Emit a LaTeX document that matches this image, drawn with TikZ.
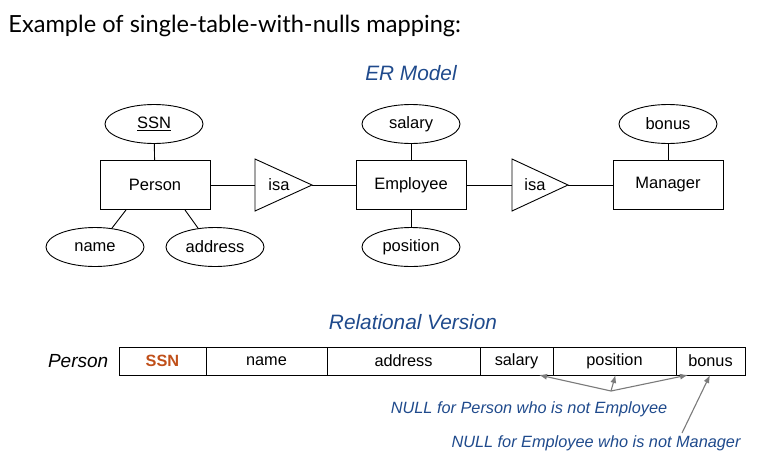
\documentclass[tikz,border=0pt]{standalone}
\usepackage{fontspec}
\setmainfont{Liberation Sans}
\newfontfamily\latofont{Lato}
\usetikzlibrary{shapes.geometric,arrows.meta}

\definecolor{hdblue}{HTML}{1F4A8C}
\definecolor{keyorange}{HTML}{C0501A}
\definecolor{arrgray}{HTML}{7A7A7A}

\tikzset{
  entity/.style={draw, rectangle, minimum width=110, minimum height=49, inner sep=0, font=\fontsize{16.5}{19}\selectfont},
  attr/.style={draw, ellipse, minimum width=98, minimum height=39, inner sep=0, font=\fontsize{16.5}{19}\selectfont},
  cell/.style={draw, rectangle, minimum height=28, inner sep=0, outer sep=0, anchor=west, font=\fontsize{16.3}{19}\selectfont},
  heading/.style={text=hdblue, font=\fontsize{20.8}{24}\selectfont\itshape},
  note/.style={text=hdblue, font=\fontsize{16.3}{19}\selectfont\itshape},
  nullarrow/.style={draw=arrgray, line width=1.1, -{Latex[length=8, width=6]}}
}

\begin{document}
\begin{tikzpicture}[x=1pt, y=-1pt, line width=0.9]
    \useasboundingbox (0,0) rectangle (767,469);
    \node[anchor=base west, inner sep=0, font=\latofont\fontsize{23.6}{27}\selectfont] (title) at (8,32) {Example of single-table-with-nulls mapping:};

    % ER model
    \node[heading] (ermodel) at (411,73) {ER Model};
    \node[entity] (person) at (155,185) {Person};
    \node[entity] (employee) at (411,185) {Employee};
    \node[entity] (manager) at (668,185) {Manager};
    \node[attr] (ssn) at (154,124) {\underline{SSN}};
    \node[attr] (name) at (95,247) {name};
    \node[attr] (address) at (215,247) {address};
    \node[attr] (salary) at (411,124) {salary};
    \node[attr] (position) at (411,247) {position};
    \node[attr] (bonus) at (668,124) {bonus};

    % isa triangles
    \draw (255,159) -- (312,185) -- (255,211) -- cycle;
    \draw (512,159) -- (568,185) -- (512,211) -- cycle;
    \path (279,185) node[font=\fontsize{16.5}{19}\selectfont] (isa1) {isa};
    \path (535,185) node[font=\fontsize{16.5}{19}\selectfont] (isa2) {isa};
    \coordinate (isa1in) at (255,185);
    \coordinate (isa1out) at (312,185);
    \coordinate (isa2in) at (512,185);
    \coordinate (isa2out) at (568,185);

    \draw (ssn) -- (person);
    \draw (name.48) -- ([xshift=-29]person.south);
    \draw (address.132) -- ([xshift=30]person.south);
    \draw (salary) -- (employee);
    \draw (position) -- (employee);
    \draw (bonus) -- (manager);
    \draw (person) -- (isa1in);
    \draw (isa1out) -- (employee);
    \draw (employee) -- (isa2in);
    \draw (isa2out) -- (manager);

    % relational version
    \node[heading] (relver) at (413,322) {Relational Version};
    \node[anchor=east, font=\fontsize{19}{22}\selectfont\itshape] (tname) at (112,361) {Person};
    \node[cell, minimum width=87, text=keyorange, font=\fontsize{16.3}{19}\selectfont\bfseries] (cssn) at (119,361) {SSN};
    \node[cell, minimum width=121] (cname) at (cssn.east) {name};
    \node[cell, minimum width=153] (caddress) at (cname.east) {address};
    \node[cell, minimum width=73] (csalary) at (caddress.east) {salary};
    \node[cell, minimum width=123] (cposition) at (csalary.east) {position};
    \node[cell, minimum width=69] (cbonus) at (cposition.east) {bonus};

    \node[note] (noemp) at (529,409) {NULL for Person who is not Employee};
    \node[note] (nomgr) at (596,443) {NULL for Employee who is not Manager};
    \coordinate (split) at (611,391);
    \coordinate (mgrfoot) at (682,433);
    \draw[nullarrow] (split) -- ([xshift=-14]csalary.south east);
    \draw[nullarrow] (split) -- ([xshift=1]cposition.south);
    \draw[nullarrow] (split) -- ([xshift=12]cposition.south east);
    \draw[nullarrow] (mgrfoot) -- ([xshift=-35]cbonus.south east);
\end{tikzpicture}
\end{document}
